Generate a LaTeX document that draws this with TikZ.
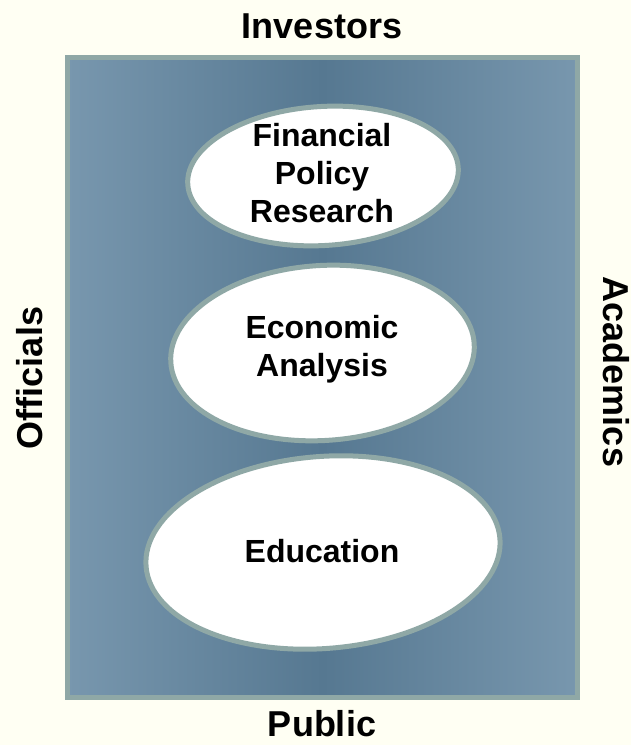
\documentclass[tikz,border=0pt]{standalone}
\usepackage{fontspec}
\setmainfont{Liberation Sans}
\usetikzlibrary{shapes.geometric}

\definecolor{paper}{RGB}{255,255,243}
\definecolor{frameline}{RGB}{143,168,166}
\definecolor{paneledge}{RGB}{120,151,174}
\definecolor{panelmid}{RGB}{86,120,145}

\begin{document}
\begin{tikzpicture}[x=1pt,y=1pt,
  bigword/.style={font=\bfseries\fontsize{36}{43}\selectfont, inner sep=0pt},
  ovalword/.style={font=\bfseries\fontsize{32}{38}\selectfont, align=center, inner sep=0pt},
  oval/.style={ellipse, draw=frameline, line width=5pt, fill=white, inner sep=0pt}]

  % page and margins
  \fill[paper] (0,0) rectangle (631,745);
  \useasboundingbox (0,0) rectangle (631,745);

  % shaded panel with its light frame
  \draw[line width=5pt, draw=frameline,
        left color=paneledge, right color=paneledge, middle color=panelmid]
    (67.5,47.5) rectangle (577.5,687.5);

  % the three activity ovals
  \node[oval, minimum width=271pt, minimum height=139pt, rotate=3.5] (research) at (323,569) {};
  \node[oval, minimum width=304pt, minimum height=175pt, rotate=3.5] (analysis) at (322.5,392) {};
  \node[oval, minimum width=355pt, minimum height=192pt, rotate=4.5] (education) at (323,192.5) {};

  \node[ovalword] (researchtxt) at (322,571.6) {Financial\\Policy\\Research};
  \node[ovalword] (analysistxt) at (322,396.1) {Economic\\Analysis};
  \node[ovalword] (educationtxt) at (322,193.5) {Education};

  % audiences around the panel
  \node[bigword, anchor=base] (investors) at (322,706) {Investors};
  \node[bigword, anchor=base] (public) at (322,9) {Public};
  \node[bigword, anchor=base, rotate=90] (officials) at (42,367) {Officials};
  \node[bigword, anchor=base, rotate=-90] (academics) at (603,373) {Academics};
\end{tikzpicture}
\end{document}
